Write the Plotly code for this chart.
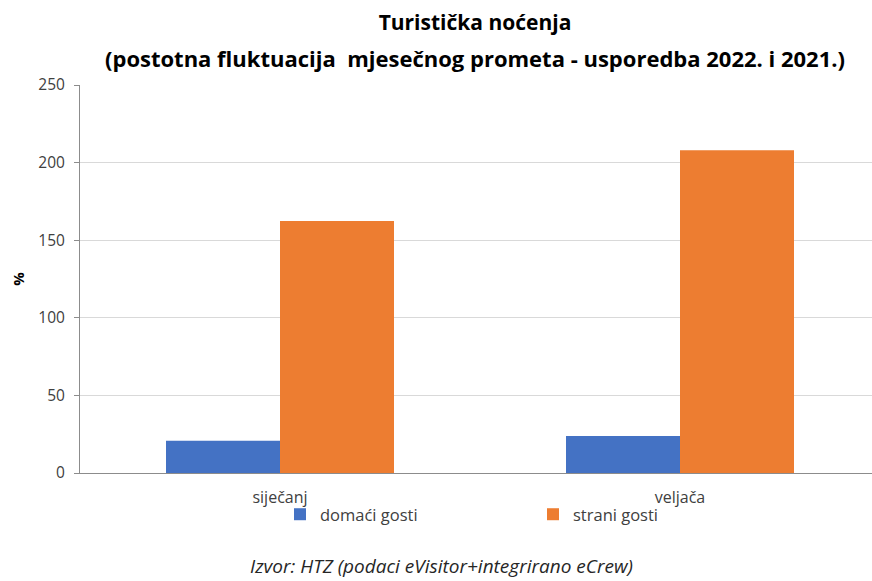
import plotly.graph_objects as go

categories = ["siječanj", "veljača"]
domaci = [20.7, 23.8]
strani = [162.4, 208.0]
y_ticks = [0, 50, 100, 150, 200, 250]

title_line1 = "Turistička noćenja"
title_line2 = "(postotna fluktuacija  mjesečnog prometa - usporedba 2022. i 2021.)"
source_text = "Izvor: HTZ (podaci eVisitor+integrirano eCrew)"

FONT = "Open Sans"
W, H = 872, 581

fig = go.Figure()
fig.add_trace(go.Bar(x=categories, y=domaci, name="domaći gosti",
                     marker=dict(color="#4472C4", line=dict(width=0))))
fig.add_trace(go.Bar(x=categories, y=strani, name="strani gosti",
                     marker=dict(color="#ED7D31", line=dict(width=0))))

fig.update_layout(
    width=W, height=H,
    margin=dict(l=80, r=0, t=85, b=108, autoexpand=False),
    paper_bgcolor="white", plot_bgcolor="white",
    barmode="group", bargap=0.43, bargroupgap=0,
    font=dict(family=FONT, size=15, color="#404040"),
    title=dict(
        text=title_line1,
        x=475 / W, xanchor="center", xref="container",
        y=1 - 23 / H, yanchor="middle", yref="container",
        font=dict(family=FONT, size=21, color="#000000", weight="bold"),
    ),
    xaxis=dict(
        range=[-0.5, 1.48],
        showline=True, linecolor="#8c8c8c", linewidth=1,
        showgrid=False, ticks="", ticklen=0,
        ticklabelstandoff=10,
        tickfont=dict(size=16, color="#404040"),
    ),
    yaxis=dict(
        range=[0, 250], tickvals=y_ticks,
        showline=True, linecolor="#8c8c8c", linewidth=1,
        showgrid=True, gridcolor="#d9d9d9", gridwidth=1,
        ticks="outside", ticklen=5, tickcolor="#8c8c8c",
        ticklabelstandoff=6,
        zeroline=False,
        tickfont=dict(size=15.5, color="#404040"),
        title=dict(text="<b>%</b>", font=dict(size=15, color="#000000"), standoff=10),
    ),
    legend=dict(
        orientation="h",
        xref="container", yref="container",
        x=280 / W, xanchor="left",
        y=1 - 497 / H, yanchor="top",
        entrywidth=208, entrywidthmode="pixels",
        font=dict(size=16.5, color="#404040"),
        itemwidth=30,
        bgcolor="rgba(0,0,0,0)",
    ),
    showlegend=True,
)

fig.add_annotation(
    text="<b>" + title_line2 + "</b>",
    xref="paper", yref="paper", x=(475 - 80) / 792, y=1,
    xanchor="center", yanchor="middle",
    yshift=85 - 58,
    showarrow=False,
    font=dict(family=FONT, size=22, color="#000000"),
)

fig.add_annotation(
    text="<i>" + source_text + "</i>",
    xref="paper", yref="paper", x=(441 - 80) / 792, y=0,
    xanchor="center", yanchor="middle",
    yshift=-(566 - 473),
    showarrow=False,
    font=dict(family=FONT, size=19, color="#262626"),
)

fig.write_html("out.html", config={"displayModeBar": False},
               post_script="document.body.style.margin='0';")
